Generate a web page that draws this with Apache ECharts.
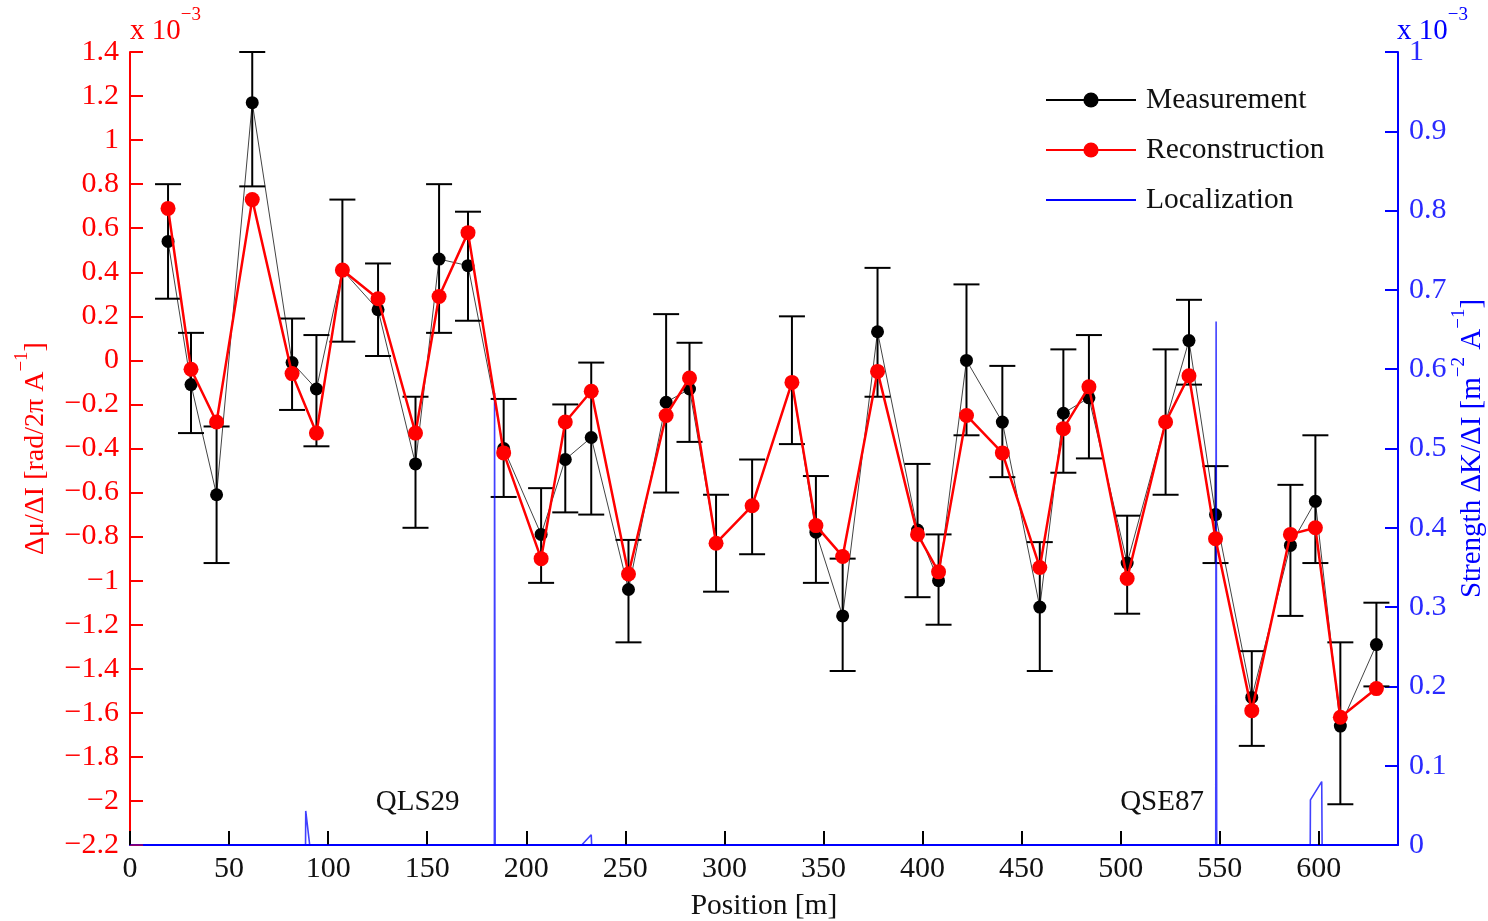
<!DOCTYPE html>
<html>
<head>
<meta charset="utf-8">
<script src="https://cdn.jsdelivr.net/npm/echarts@6/dist/echarts.min.js"></script>
<style>
html,body{margin:0;padding:0;background:#fff;}
#chart{width:1488px;height:921px;}
</style>
</head>
<body>
<div id="chart"></div>
<script>
// BPM positions [m]
const positions = [19.2, 30.8, 43.7, 61.7, 81.8, 94.1, 107.2, 125.2, 144.1, 156.0,
  170.6, 188.6, 207.5, 219.7, 232.8, 251.6, 270.6, 282.4, 295.8, 314.0,
  334.1, 346.2, 359.7, 377.3, 397.5, 408.1, 422.2, 440.3, 459.2, 471.1,
  484.0, 503.3, 522.7, 534.5, 547.9, 566.2, 585.7, 598.3, 610.9, 629.1];
// Δμ/ΔI, units of 1e-3
const measurement = [0.54, -0.11, -0.61, 1.17, -0.01, -0.13, 0.41, 0.23, -0.47, 0.46,
  0.43, -0.40, -0.79, -0.45, -0.35, -1.04, -0.19, -0.13, -0.83, -0.66,
  -0.10, -0.78, -1.16, 0.13, -0.77, -1.00, 0.00, -0.28, -1.12, -0.24,
  -0.17, -0.92, -0.28, 0.09, -0.70, -1.53, -0.84, -0.64, -1.66, -1.29];
const reconstruction = [0.69, -0.04, -0.28, 0.73, -0.06, -0.33, 0.41, 0.28, -0.33, 0.29,
  0.58, -0.42, -0.90, -0.28, -0.14, -0.97, -0.25, -0.08, -0.83, -0.66,
  -0.10, -0.75, -0.89, -0.05, -0.79, -0.96, -0.25, -0.42, -0.94, -0.31,
  -0.12, -0.99, -0.28, -0.07, -0.81, -1.59, -0.79, -0.76, -1.62, -1.49];
const errLow = [0.28, -0.33, -0.92, 0.79, -0.225, -0.39, 0.085, 0.02, -0.76, 0.125,
  0.18, -0.62, -1.01, -0.69, -0.70, -1.28, -0.60, -0.37, -1.05, -0.88,
  -0.38, -1.01, -1.41, -0.165, -1.075, -1.20, -0.34, -0.53, -1.41, -0.51,
  -0.445, -1.15, -0.61, -0.11, -0.92, -1.75, -1.16, -0.92, -2.015, -1.48];
const errHigh = [0.80, 0.125, -0.30, 1.40, 0.19, 0.115, 0.73, 0.44, -0.165, 0.80,
  0.675, -0.175, -0.58, -0.20, -0.01, -0.815, 0.21, 0.08, -0.61, -0.45,
  0.20, -0.525, -0.90, 0.42, -0.47, -0.79, 0.345, -0.025, -0.825, 0.05,
  0.115, -0.705, 0.05, 0.275, -0.48, -1.32, -0.565, -0.34, -1.28, -1.10];
// Localization strength ΔK/ΔI, units of 1e-3
const locPos = [0, 88.6, 88.7, 90.7, 183.9, 184.0, 184.3, 228.0, 232.8, 233.0,
  548.0, 548.2, 548.5, 595.7, 595.8, 601.5, 601.7, 640];
const locVal = [0, 0, 0.043, 0, 0, 0.57, 0, 0, 0.013, 0,
  0, 0.66, 0, 0, 0.057, 0.08, 0, 0];
// magnet annotations
const annotNames = ['QLS29', 'QSE87'];
const annotPos = [145.2, 520.9];
const annotVal = [0.054, 0.054];

const FONT = 'Liberation Serif';
const RED = '#ff0000';
const BLUE = '#0000ff';

const measData = positions.map((p, i) => [p, measurement[i]]);
const reconData = positions.map((p, i) => [p, reconstruction[i]]);
const errData = positions.map((p, i) => [p, errLow[i], errHigh[i]]);
const locData = locPos.map((p, i) => [p, locVal[i]]);
const annotData = annotPos.map((p, i) => ({ value: [p, annotVal[i]], name: annotNames[i] }));

const fmtTick = v => {
  const r = Math.round(v * 10) / 10;
  return String(r).replace('-', '\u2212');
};

const chart = echarts.init(document.getElementById('chart'), null, { renderer: 'canvas' });
chart.setOption({
  animation: false,
  backgroundColor: '#fff',
  textStyle: { fontFamily: FONT },
  grid: { left: 130, right: 90, top: 52, bottom: 76, containLabel: false, outerBoundsMode: 'none' },
  legend: {
    orient: 'vertical',
    left: 1045,
    top: 85,
    padding: 0,
    itemWidth: 90,
    itemHeight: 19,
    itemGap: 20,
    data: [
      { name: 'Measurement', lineStyle: { color: '#000', width: 2 } },
      { name: 'Reconstruction', lineStyle: { color: RED, width: 2 } },
      { name: 'Localization', itemStyle: { opacity: 0 }, lineStyle: { color: BLUE, width: 2 } }
    ],
    textStyle: { fontFamily: FONT, fontSize: 29.5, color: '#111', padding: [0, 0, 0, 5] }
  },
  xAxis: {
    type: 'value',
    min: 0, max: 640, interval: 50,
    name: 'Position [m]',
    nameLocation: 'middle',
    nameGap: 46,
    nameMoveOverlap: false,
    nameTextStyle: { fontFamily: FONT, fontSize: 29.5, color: '#111' },
    axisLine: { show: true, onZero: false, lineStyle: { color: BLUE, width: 2 } },
    axisTick: { show: true, inside: true, length: 14, lineStyle: { color: '#000', width: 2 } },
    axisLabel: { fontFamily: FONT, fontSize: 30, color: '#111', margin: 9, showMaxLabel: false },
    splitLine: { show: false }
  },
  yAxis: [
    {
      type: 'value',
      min: -2.2, max: 1.4, interval: 0.2,
      position: 'left',
      name: '{n|\u0394\u03bc/\u0394I [rad/2\u03c0 A}{s|\u22121}{n|]}',
      nameLocation: 'middle',
      nameGap: 80,
      nameRotate: 90,
      nameMoveOverlap: false,
      nameTextStyle: {
        color: RED, fontFamily: FONT, fontSize: 28,
        rich: {
          n: { color: RED, fontFamily: FONT, fontSize: 28, lineHeight: 37, verticalAlign: 'bottom' },
          s: { color: RED, fontFamily: FONT, fontSize: 19, lineHeight: 37, verticalAlign: 'top' }
        }
      },
      axisLine: { show: true, onZero: false, lineStyle: { color: RED, width: 2 } },
      axisTick: { show: true, inside: true, length: 13, lineStyle: { color: RED, width: 2 } },
      axisLabel: { fontFamily: FONT, fontSize: 30, color: RED, margin: 11, formatter: fmtTick },
      splitLine: { show: false }
    },
    {
      type: 'value',
      min: 0, max: 1, interval: 0.1,
      position: 'right',
      name: '{n|Strength \u0394K/\u0394I [m}{s|\u22122}{n| A}{s|\u22121}{n|]}',
      nameLocation: 'middle',
      nameGap: 52,
      nameRotate: 90,
      nameMoveOverlap: false,
      nameTextStyle: {
        color: BLUE, fontFamily: FONT, fontSize: 29,
        rich: {
          n: { color: BLUE, fontFamily: FONT, fontSize: 29, lineHeight: 37, verticalAlign: 'bottom' },
          s: { color: BLUE, fontFamily: FONT, fontSize: 19, lineHeight: 37, verticalAlign: 'top' }
        }
      },
      axisLine: { show: true, onZero: false, lineStyle: { color: BLUE, width: 2 } },
      axisTick: { show: true, inside: true, length: 13, lineStyle: { color: BLUE, width: 2 } },
      axisLabel: { fontFamily: FONT, fontSize: 30, color: '#2a2aff', margin: 11, formatter: fmtTick },
      splitLine: { show: false }
    }
  ],
  graphic: [
    {
      type: 'text', left: 130, top: 6,
      style: {
        text: '{n|x 10}{s|\u22123}',
        rich: {
          n: { fill: RED, fontFamily: FONT, fontSize: 29, lineHeight: 40, verticalAlign: 'bottom' },
          s: { fill: RED, fontFamily: FONT, fontSize: 19, lineHeight: 40, verticalAlign: 'top' }
        }
      }
    },
    {
      type: 'text', left: 1397, top: 6,
      style: {
        text: '{n|x 10}{s|\u22123}',
        rich: {
          n: { fill: BLUE, fontFamily: FONT, fontSize: 29, lineHeight: 40, verticalAlign: 'bottom' },
          s: { fill: BLUE, fontFamily: FONT, fontSize: 19, lineHeight: 40, verticalAlign: 'top' }
        }
      }
    }
  ],
  series: [
    {
      name: 'Measurement',
      type: 'line',
      data: measData,
      xAxisIndex: 0, yAxisIndex: 0,
      z: 2,
      symbol: 'circle',
      symbolSize: 13,
      itemStyle: { color: '#000' },
      lineStyle: { color: '#444', width: 1 }
    },
    {
      name: 'MeasErr',
      type: 'custom',
      data: errData,
      xAxisIndex: 0, yAxisIndex: 0,
      z: 3,
      encode: { x: 0, y: [1, 2] },
      renderItem: function (params, api) {
        const x = api.value(0);
        const pLo = api.coord([x, api.value(1)]);
        const pHi = api.coord([x, api.value(2)]);
        const hw = 13;
        const st = { stroke: '#000', lineWidth: 2 };
        return {
          type: 'group',
          children: [
            { type: 'line', shape: { x1: pLo[0], y1: pLo[1], x2: pHi[0], y2: pHi[1] }, style: st },
            { type: 'line', shape: { x1: pLo[0] - hw, y1: pLo[1], x2: pLo[0] + hw, y2: pLo[1] }, style: st },
            { type: 'line', shape: { x1: pHi[0] - hw, y1: pHi[1], x2: pHi[0] + hw, y2: pHi[1] }, style: st }
          ]
        };
      }
    },
    {
      name: 'Localization',
      type: 'line',
      data: locData,
      xAxisIndex: 0, yAxisIndex: 1,
      z: 4,
      symbol: 'none',
      itemStyle: { color: BLUE },
      lineStyle: { color: 'rgba(0,0,255,0.75)', width: 1.6 }
    },
    {
      name: 'Reconstruction',
      type: 'line',
      data: reconData,
      xAxisIndex: 0, yAxisIndex: 0,
      z: 5,
      symbol: 'circle',
      symbolSize: 15,
      itemStyle: { color: RED },
      lineStyle: { color: RED, width: 2.5 }
    },
    {
      name: 'Annotations',
      type: 'scatter',
      data: annotData,
      xAxisIndex: 0, yAxisIndex: 1,
      z: 6,
      symbolSize: 0,
      silent: true,
      itemStyle: { opacity: 1 },
      label: {
        show: true, position: 'inside', opacity: 1,
        formatter: p => p.name,
        fontFamily: FONT, fontSize: 29, color: '#111'
      }
    }
  ]
});
</script>
</body>
</html>
